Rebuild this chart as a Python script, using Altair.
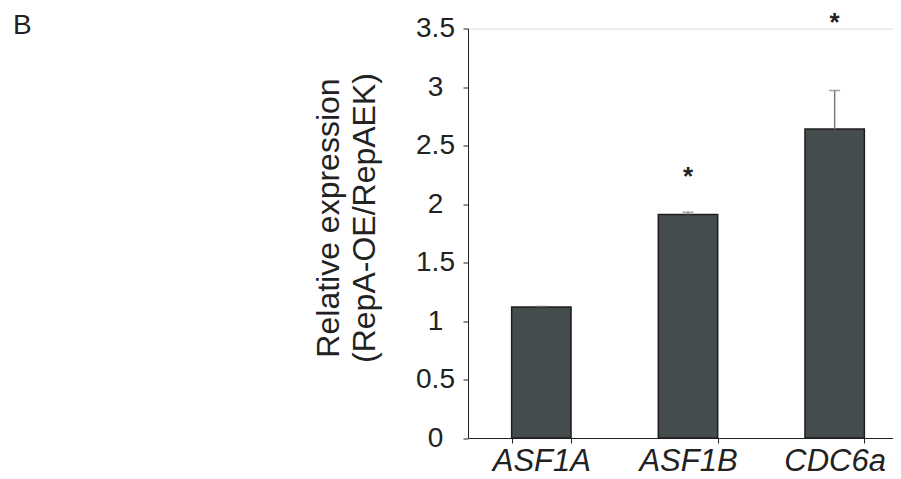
import altair as alt
import pandas as pd

genes = ["ASF1A", "ASF1B", "CDC6a"]
means = [1.12, 1.91, 2.64]
errors = [0.005, 0.02, 0.33]
star_labels = ["", "*", "*"]
star_pos = [None, 2.28, 3.6]
y_ticks = [0, 0.5, 1, 1.5, 2, 2.5, 3, 3.5]
panel_label = "B"

df = pd.DataFrame({
    "gene": genes,
    "mean": means,
    "top": [m + e for m, e in zip(means, errors)],
    "star": star_labels,
    "star_y": star_pos,
})

FONT = "Liberation Sans"
INK = "#222222"

x_enc = alt.X(
    "gene:N",
    sort=genes,
    scale=alt.Scale(range=[0, 440], paddingInner=0.595, paddingOuter=0.2975),
    axis=alt.Axis(
        title=None, labelAngle=0, labelFont=FONT, labelFontSize=31,
        labelFontStyle="italic", labelColor=INK, labelPadding=3,
        tickBand="extent", tickSize=5, tickColor=INK, domainColor=INK,
        domainWidth=1, tickWidth=1, grid=False,
    ),
)
y_scale = alt.Scale(domain=[0, 3.5], nice=False)
y_axis = alt.Axis(
    values=y_ticks, format=".1~f", grid=False,
    labelFont=FONT, labelFontSize=28, labelColor=INK, labelAlign="center",
    labelBaseline="middle", labelPadding=28, tickSize=5, tickColor=INK,
    domainColor=INK, tickWidth=1, domainWidth=1,
    title=["Relative expression", "(RepA-OE/RepAEK)"],
    titleFont=FONT, titleFontSize=32, titleFontWeight="normal", titleColor=INK,
    titleAngle=-90, titleAlign="center", titleBaseline="top",
    titleLineHeight=36, titleX=-155, titleY=189,
)

base = alt.Chart(df)

bars = base.mark_bar(fill="#454c4e", stroke="#1e1e1e", strokeWidth=1.5).encode(
    x=x_enc,
    y=alt.Y("mean:Q", scale=y_scale, axis=y_axis),
)
err = base.mark_rule(color="#7a7a7a", strokeWidth=1.5).encode(
    x=alt.X("gene:N", sort=genes), y="mean:Q", y2="top:Q"
)
caps = base.mark_tick(color="#7a7a7a", thickness=1.5, size=11).encode(
    x=alt.X("gene:N", sort=genes), y="top:Q"
)
stars = base.transform_filter("datum.star != ''").mark_text(
    font=FONT, fontSize=26, fontWeight="bold", color=INK, baseline="alphabetic", dy=14
).encode(
    x=alt.X("gene:N", sort=genes), y="star_y:Q", text="star:N"
)
label = alt.Chart(pd.DataFrame({"t": [panel_label]})).mark_text(
    font=FONT, fontSize=28, color=INK, align="left", baseline="alphabetic"
).encode(x=alt.value(-455), y=alt.value(5.5), text="t:N")

chart = alt.layer(bars, err, caps, stars, label).properties(
    width=425, height=409.5,
    autosize=alt.AutoSizeParams(type="none"),
    padding={"left": 460, "top": 20.5, "right": 0, "bottom": 40},
).configure_view(stroke=None).configure(background="white")

chart.save("out.html", embed_options={"renderer": "svg", "actions": False})
